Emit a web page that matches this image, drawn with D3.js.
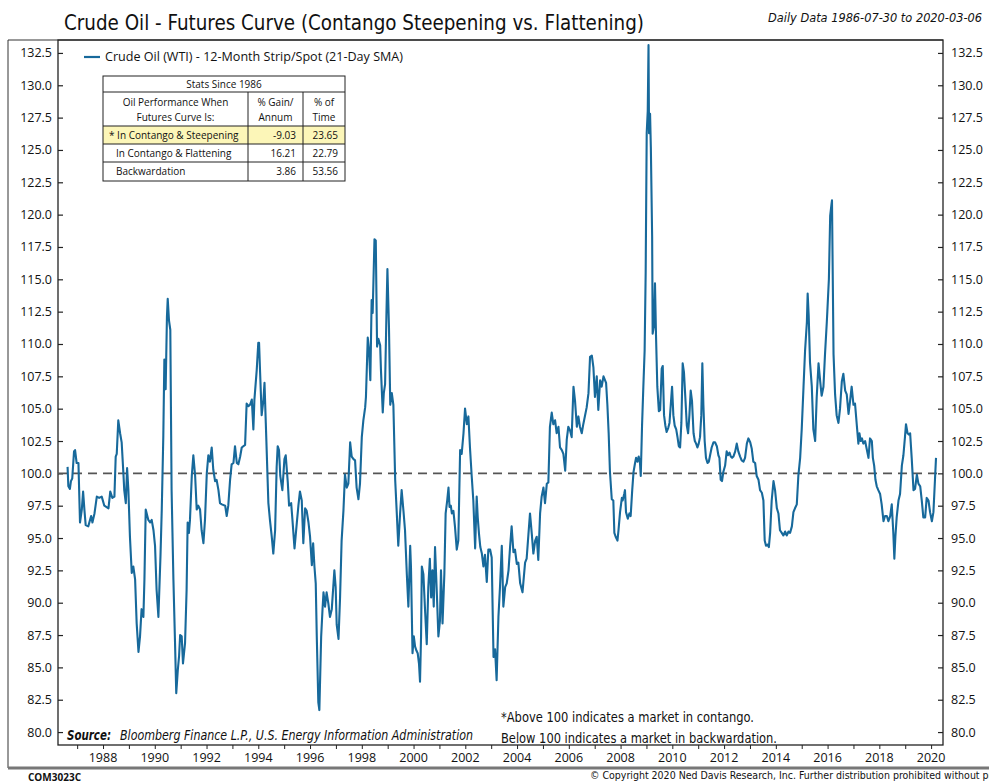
<!doctype html>
<html>
<head>
<meta charset="utf-8">
<script src="https://cdnjs.cloudflare.com/ajax/libs/d3/7.8.5/d3.min.js"></script>
<style>
  body { margin: 0; background: #fff; }
  svg text { font-family: "Open Sans", "Liberation Sans", sans-serif; fill: #111; }
  .narrow { font-family: "Liberation Sans Narrow", "DejaVu Sans Condensed", sans-serif; }
</style>
</head>
<body>
<svg id="chart" width="989" height="784"></svg>
<script>
// 12-month strip / spot, 21-day SMA (decimal years)
var dates = [
  1986.63,1986.66,1986.72,1986.76,1986.81,1986.88,1986.92,1986.98,1987.05,1987.11,1987.18,1987.23,1987.28,1987.33,1987.43,1987.54,1987.59,1987.67,1987.76,1987.85,1987.95,
  1988.05,1988.21,1988.28,1988.36,1988.44,1988.49,1988.53,1988.59,1988.66,1988.72,1988.79,1988.82,1988.88,1988.93,1988.98,
  1989.04,1989.11,1989.17,1989.24,1989.30,1989.37,1989.43,1989.49,1989.56,1989.60,1989.65,1989.75,1989.82,1989.88,1989.95,
  1990.01,1990.07,1990.14,1990.22,1990.27,1990.33,1990.37,1990.42,1990.47,1990.50,1990.55,1990.60,1990.65,1990.72,1990.78,1990.83,1990.89,1990.94,1990.98,
  1991.04,1991.09,1991.17,1991.23,1991.27,1991.32,1991.36,1991.43,1991.49,1991.56,1991.62,1991.68,1991.75,1991.81,1991.88,1991.94,
  1992.01,1992.07,1992.13,1992.20,1992.26,1992.33,1992.39,1992.46,1992.52,1992.59,1992.72,1992.78,1992.84,1992.91,1992.97,
  1993.04,1993.10,1993.17,1993.23,1993.30,1993.36,1993.49,1993.55,1993.62,1993.68,1993.75,1993.81,1993.85,1993.94,
  1994.00,1994.03,1994.07,1994.13,1994.20,1994.24,1994.29,1994.39,1994.45,1994.52,1994.58,1994.65,1994.71,1994.75,1994.80,1994.85,1994.93,
  1995.01,1995.06,1995.14,1995.19,1995.27,1995.32,1995.40,1995.49,1995.55,1995.61,1995.68,1995.74,1995.81,1995.87,1995.94,
  1996.00,1996.07,1996.12,1996.17,1996.22,1996.26,1996.32,1996.36,1996.43,1996.48,1996.52,1996.58,1996.64,1996.71,1996.77,1996.84,1996.94,1996.99,
  1997.03,1997.10,1997.16,1997.22,1997.29,1997.35,1997.42,1997.48,1997.55,1997.61,1997.68,1997.74,1997.80,1997.87,1997.93,
  1998.00,1998.06,1998.13,1998.16,1998.23,1998.28,1998.33,1998.38,1998.42,1998.49,1998.54,1998.59,1998.64,1998.71,1998.74,1998.81,1998.85,1998.90,1998.95,1998.99,
  1999.05,1999.10,1999.16,1999.22,1999.29,1999.35,1999.41,1999.48,1999.54,1999.61,1999.67,1999.74,1999.80,1999.87,1999.90,1999.96,
  2000.01,2000.06,2000.11,2000.16,2000.21,2000.25,2000.29,2000.32,2000.38,2000.45,2000.51,2000.57,2000.63,2000.68,2000.73,2000.78,2000.83,2000.90,2000.96,
  2001.02,2001.06,2001.12,2001.19,2001.24,2001.30,2001.35,2001.39,2001.44,2001.48,2001.54,2001.60,2001.67,2001.73,2001.80,2001.86,2001.93,2001.99,
  2002.06,2002.12,2002.18,2002.25,2002.31,2002.38,2002.44,2002.48,2002.53,2002.58,2002.64,2002.70,2002.76,2002.83,2002.89,2002.96,
  2003.02,2003.09,2003.15,2003.21,2003.28,2003.34,2003.41,2003.47,2003.54,2003.60,2003.67,2003.73,2003.79,2003.86,2003.92,2003.99,
  2004.05,2004.12,2004.21,2004.31,2004.37,2004.44,2004.50,2004.57,2004.63,2004.70,2004.76,2004.82,2004.89,2004.95,
  2005.02,2005.08,2005.15,2005.21,2005.27,2005.34,2005.40,2005.47,2005.53,2005.60,2005.66,2005.73,2005.79,2005.86,2005.92,2005.98,
  2006.05,2006.11,2006.18,2006.24,2006.31,2006.37,2006.43,2006.50,2006.56,2006.69,2006.76,2006.82,2006.89,2006.95,
  2007.01,2007.08,2007.14,2007.21,2007.27,2007.34,2007.44,2007.49,2007.54,2007.59,2007.66,2007.72,2007.76,2007.81,2007.88,2007.92,2007.98,
  2008.05,2008.08,2008.14,2008.17,2008.21,2008.28,2008.34,2008.39,2008.45,2008.50,2008.56,2008.60,2008.65,2008.70,2008.75,2008.78,2008.83,2008.88,2008.93,2008.97,
  2009.01,2009.05,2009.08,2009.10,2009.14,2009.17,2009.22,2009.24,2009.29,2009.33,2009.37,2009.42,2009.48,2009.53,2009.59,2009.63,2009.68,2009.73,2009.78,2009.84,2009.89,2009.94,2009.99,
  2010.04,2010.09,2010.15,2010.20,2010.25,2010.30,2010.35,2010.40,2010.45,2010.51,2010.56,2010.61,2010.66,2010.71,2010.76,2010.82,2010.87,2010.92,2010.97,
  2011.02,2011.07,2011.12,2011.16,2011.20,2011.25,2011.30,2011.36,2011.41,2011.46,2011.52,2011.59,2011.65,2011.72,2011.78,2011.82,2011.87,2011.92,2011.97,
  2012.04,2012.10,2012.15,2012.21,2012.26,2012.31,2012.36,2012.43,2012.49,2012.55,2012.62,2012.68,2012.75,2012.81,2012.88,2012.94,
  2013.01,2013.07,2013.13,2013.20,2013.26,2013.33,2013.39,2013.46,2013.52,2013.57,2013.62,2013.68,2013.73,2013.78,2013.84,2013.91,2013.97,
  2014.04,2014.10,2014.16,2014.23,2014.29,2014.36,2014.42,2014.49,2014.55,2014.62,2014.68,2014.74,2014.81,2014.87,2014.94,
  2015.00,2015.07,2015.13,2015.20,2015.23,2015.27,2015.32,2015.39,2015.45,2015.52,2015.58,2015.65,2015.71,2015.77,2015.84,2015.90,2015.97,2015.99,
  2016.05,2016.10,2016.15,2016.17,2016.23,2016.29,2016.35,2016.42,2016.48,2016.55,2016.61,2016.68,2016.74,2016.81,2016.87,2016.93,
  2017.00,2017.06,2017.13,2017.19,2017.23,2017.28,2017.33,2017.38,2017.45,2017.51,2017.58,2017.64,2017.71,2017.75,2017.80,2017.85,2017.90,2017.96,
  2018.03,2018.09,2018.16,2018.22,2018.29,2018.35,2018.42,2018.48,2018.54,2018.58,2018.62,2018.67,2018.74,2018.80,2018.87,2018.93,2018.99,
  2019.03,2019.09,2019.14,2019.19,2019.25,2019.32,2019.38,2019.45,2019.51,2019.58,2019.64,2019.70,2019.77,2019.83,2019.90,2019.96,
  2020.03,2020.09,2020.15,2020.19
];
var ratio = [
  100.5,99.0,98.8,99.4,99.6,101.7,101.8,100.8,100.8,96.2,97.2,98.6,97.2,96.0,95.9,96.7,96.2,96.9,98.2,98.1,98.2,
  97.5,97.3,98.6,98.1,98.2,101.3,101.5,104.1,103.1,102.4,99.9,98.7,97.7,100.4,98.7,
  95.1,92.3,92.8,91.8,88.4,86.2,87.4,89.5,88.9,91.8,97.2,96.4,96.2,96.4,95.6,
  94.4,91.0,88.9,93.6,97.2,102.9,108.8,106.5,112.1,113.5,111.8,111.1,98.7,91.8,87.1,83.0,84.8,85.9,87.5,
  87.4,85.3,86.9,91.0,96.2,95.4,96.4,99.8,101.4,99.8,97.2,97.5,97.2,95.6,94.6,96.4,
  100.0,101.4,100.9,102.0,100.3,99.4,99.5,98.7,97.7,97.6,97.5,96.7,97.5,99.5,100.7,
  100.8,102.1,100.8,100.7,101.3,102.0,102.2,105.4,105.2,105.3,105.7,103.4,105.7,108.0,
  110.1,110.1,107.8,104.5,105.7,107.0,103.9,97.7,96.4,95.1,93.8,95.6,100.5,102.1,101.8,99.8,98.7,
  101.1,101.4,99.3,97.5,97.7,96.4,94.2,96.2,97.5,98.6,97.9,94.6,97.3,97.1,96.2,
  95.1,92.9,94.6,92.8,91.5,87.4,82.3,81.7,87.4,89.4,90.8,89.7,90.8,89.9,88.9,89.5,92.5,91.2,
  88.3,87.2,90.4,94.8,97.1,99.9,98.9,99.2,102.4,101.3,101.1,101.0,98.9,98.0,99.2,
  102.8,104.1,105.1,105.9,110.5,109.5,107.2,113.4,112.4,118.1,118.0,109.8,110.4,109.9,108.0,104.7,106.2,106.9,112.1,115.8,
  111.3,105.3,106.2,105.3,99.5,97.0,94.4,96.9,98.7,97.1,95.6,92.2,89.7,94.4,92.8,86.1,
  87.4,86.6,86.3,86.1,85.3,83.9,87.4,92.8,92.2,89.2,86.8,91.2,93.4,90.4,92.5,89.7,94.3,90.7,87.4,
  88.6,92.5,88.4,92.2,96.9,97.9,98.9,97.4,97.5,96.9,97.1,95.9,94.1,94.8,101.8,101.5,103.1,105.0,
  103.8,104.4,102.0,99.7,97.9,94.2,98.2,96.6,95.3,94.3,93.8,92.8,93.7,91.6,94.1,94.1,
  93.5,85.8,86.4,84.0,88.9,91.2,94.4,89.7,91.2,91.5,92.5,94.3,95.9,93.9,94.1,93.0,
  93.1,91.5,90.8,93.1,93.4,95.3,96.9,95.3,93.8,94.8,95.1,93.3,96.9,98.2,
  98.9,97.7,99.2,99.3,103.6,104.7,103.8,104.1,103.1,103.6,102.0,101.8,101.5,100.2,102.6,103.6,
  103.3,102.8,106.7,105.6,103.6,104.4,103.6,103.1,103.8,105.1,106.2,109.0,109.1,108.2,
  105.9,107.5,104.9,107.2,106.7,107.5,107.0,105.3,103.1,100.1,98.0,97.9,95.4,95.1,94.8,95.6,97.0,
  98.1,97.9,98.4,98.7,97.0,96.5,96.9,96.7,98.7,100.1,100.8,101.2,100.9,101.3,100.8,99.8,103.7,106.7,109.5,115.5,
  126.3,128.0,133.1,126.3,127.8,125.2,118.3,110.8,111.4,114.7,110.6,106.7,104.8,104.9,108.1,108.3,104.5,103.7,103.2,103.5,103.9,105.3,106.7,
  104.5,103.7,103.4,102.8,102.1,102.0,103.9,108.5,107.8,105.6,103.7,103.1,104.5,106.4,105.6,103.1,102.5,102.3,102.0,
  102.3,102.8,104.5,108.5,105.3,102.5,101.2,100.8,100.9,101.4,102.0,102.4,102.4,102.1,101.4,101.2,99.5,99.4,100.1,
  100.6,101.7,101.4,101.6,101.3,101.2,101.3,101.7,102.3,101.7,101.3,101.0,100.9,101.2,102.3,102.7,
  102.4,101.9,100.9,100.8,99.8,99.5,98.7,98.5,97.9,94.8,94.4,94.5,94.3,95.4,97.9,99.4,98.7,
  97.3,96.9,95.6,95.4,95.2,95.5,95.2,95.5,95.4,95.9,97.0,97.3,97.6,99.8,101.2,
  103.4,106.7,109.5,111.7,113.9,112.2,108.6,106.7,103.4,102.5,105.9,108.5,107.2,106.0,106.7,109.2,111.7,112.5,
  115.0,119.9,120.8,121.1,109.2,106.1,104.5,103.9,105.0,107.1,107.7,106.4,106.1,104.6,105.6,106.7,
  105.3,105.4,103.7,102.3,103.1,102.5,102.7,102.3,102.5,101.9,101.2,102.7,102.5,101.2,100.6,99.5,99.0,98.7,
  98.4,97.6,96.3,96.7,96.7,96.3,96.7,97.6,95.4,93.4,95.1,96.6,97.9,98.4,100.6,101.4,102.8,
  103.8,103.1,103.0,103.1,101.2,98.7,98.8,99.9,99.2,99.0,97.9,96.6,96.6,98.1,97.9,97.0,
  96.3,97.0,99.5,101.2
];

var yTicks = d3.range(80, 133, 2.5);
var xYears = d3.range(1987, 2021);
var xLabelYears = d3.range(1988, 2021, 2);

var statHead = ["Oil Performance When", "Futures Curve Is:"];
var statRows = ["* In Contango & Steepening", "In Contango & Flattening", "Backwardation"];
var statGain = ["-9.03", "16.21", "3.86"];
var statTime = ["23.65", "22.79", "53.56"];

var lineColor = "#17699b";
var svg = d3.select("#chart");

var pLeft = 58, pRight = 943, pTop = 40, pBottom = 745;

var x = d3.scaleLinear().domain([1986.26, 2020.46]).range([pLeft, pRight]);
var y = d3.scaleLinear().domain([79.0, 133.5]).range([pBottom, pTop]);

// frames
svg.append("line").attr("x1", 8).attr("x2", 8).attr("y1", pTop).attr("y2", 768)
  .attr("stroke", "#333").attr("stroke-width", 1);
svg.append("line").attr("x1", 8).attr("x2", pRight).attr("y1", pTop).attr("y2", pTop)
  .attr("stroke", "#333").attr("stroke-width", 1);
svg.append("line").attr("x1", 8).attr("x2", 989).attr("y1", 768).attr("y2", 768)
  .attr("stroke", "#777").attr("stroke-width", 3);
svg.append("rect").attr("x", pLeft).attr("y", pTop).attr("width", pRight - pLeft).attr("height", pBottom - pTop)
  .attr("fill", "none").attr("stroke", "#222").attr("stroke-width", 1.3);

// y axes both sides, ticks inside
var yl = svg.append("g").attr("transform", "translate(" + pLeft + ",0)")
  .call(d3.axisRight(y).tickValues(yTicks).tickSize(5).tickFormat(""));
var yr = svg.append("g").attr("transform", "translate(" + pRight + ",0)")
  .call(d3.axisLeft(y).tickValues(yTicks).tickSize(5).tickFormat(""));
[yl, yr].forEach(function(g) {
  g.select(".domain").remove();
  g.selectAll("line").attr("stroke", "#222").attr("stroke-width", 1.2);
});
svg.append("g").selectAll("text").data(yTicks).enter().append("text")
  .attr("x", pLeft - 6).attr("y", function(d) { return y(d) + 4.5; })
  .attr("text-anchor", "end").attr("font-size", 12.5)
  .text(function(d) { return d.toFixed(1); });
svg.append("g").selectAll("text").data(yTicks).enter().append("text")
  .attr("x", pRight + 8).attr("y", function(d) { return y(d) + 4.5; })
  .attr("font-size", 12.5)
  .text(function(d) { return d.toFixed(1); });

// x axis
var xa = svg.append("g").attr("transform", "translate(0," + pBottom + ")")
  .call(d3.axisBottom(x).tickValues(xYears).tickSize(4).tickFormat(""));
xa.select(".domain").remove();
xa.selectAll("line").attr("stroke", "#222");
svg.append("g").selectAll("text").data(xLabelYears).enter().append("text")
  .attr("x", function(d) { return x(d); }).attr("y", 762)
  .attr("text-anchor", "middle").attr("font-size", 12.5)
  .text(function(d) { return d; });

// 100 reference
svg.append("line").attr("x1", pLeft).attr("x2", pRight).attr("y1", y(100)).attr("y2", y(100))
  .attr("stroke", "#555").attr("stroke-width", 1.6).attr("stroke-dasharray", "9,6");

// series
var pts = dates.map(function(d, i) { return [d, ratio[i]]; });
svg.append("path").datum(pts)
  .attr("fill", "none").attr("stroke", lineColor).attr("stroke-width", 2.1)
  .attr("stroke-linejoin", "round")
  .attr("d", d3.line().x(function(d) { return x(d[0]); }).y(function(d) { return y(d[1]); }));

// titles
svg.append("text").attr("class", "narrow").attr("x", 64).attr("y", 30)
  .attr("font-size", 22).attr("textLength", 580).attr("lengthAdjust", "spacingAndGlyphs")
  .text("Crude Oil - Futures Curve (Contango Steepening vs. Flattening)");
svg.append("text").attr("class", "narrow").attr("x", 982).attr("y", 22)
  .attr("text-anchor", "end").attr("font-size", 12.5).attr("font-style", "italic")
  .attr("textLength", 214).attr("lengthAdjust", "spacingAndGlyphs")
  .text("Daily Data 1986-07-30 to 2020-03-06");

// legend
svg.append("line").attr("x1", 84).attr("x2", 100).attr("y1", 57).attr("y2", 57)
  .attr("stroke", lineColor).attr("stroke-width", 2.2);
svg.append("text").attr("x", 105).attr("y", 61).attr("font-size", 12)
  .attr("textLength", 298).attr("lengthAdjust", "spacingAndGlyphs")
  .text("Crude Oil (WTI) - 12-Month Strip/Spot (21-Day SMA)");

// stats table
var tx0 = 103, tx1 = 248, tx2 = 303, tx3 = 345;
var rowY = [76, 92, 126, 144, 162, 181];
var tbl = svg.append("g").attr("font-size", 10);
tbl.append("rect").attr("x", tx0).attr("y", rowY[2]).attr("width", tx3 - tx0).attr("height", rowY[3] - rowY[2])
  .attr("fill", "#fcf6b8");
tbl.append("rect").attr("x", tx0).attr("y", rowY[0]).attr("width", tx3 - tx0).attr("height", rowY[5] - rowY[0])
  .attr("fill", "none").attr("stroke", "#222").attr("stroke-width", 1);
rowY.slice(1, 5).forEach(function(ry) {
  tbl.append("line").attr("x1", tx0).attr("x2", tx3).attr("y1", ry).attr("y2", ry).attr("stroke", "#222");
});
[tx1, tx2].forEach(function(cx) {
  tbl.append("line").attr("x1", cx).attr("x2", cx).attr("y1", rowY[1]).attr("y2", rowY[5]).attr("stroke", "#222");
});
tbl.append("text").attr("x", (tx0 + tx3) / 2).attr("y", 88).attr("text-anchor", "middle").text("Stats Since 1986");
statHead.forEach(function(t, i) {
  tbl.append("text").attr("x", (tx0 + tx1) / 2).attr("y", 106 + i * 15).attr("text-anchor", "middle").text(t);
});
["% Gain/", "Annum"].forEach(function(t, i) {
  tbl.append("text").attr("x", (tx1 + tx2) / 2).attr("y", 106 + i * 15).attr("text-anchor", "middle").text(t);
});
["% of", "Time"].forEach(function(t, i) {
  tbl.append("text").attr("x", (tx2 + tx3) / 2).attr("y", 106 + i * 15).attr("text-anchor", "middle").text(t);
});
statRows.forEach(function(t, i) {
  var by = rowY[i + 2] + 13;
  tbl.append("text").attr("x", i === 0 ? 109 : 116).attr("y", by).text(t);
  tbl.append("text").attr("x", tx2 - 7).attr("y", by).attr("text-anchor", "end").text(statGain[i]);
  tbl.append("text").attr("x", tx3 - 7).attr("y", by).attr("text-anchor", "end").text(statTime[i]);
});

// notes
svg.append("text").attr("class", "narrow").attr("x", 67).attr("y", 740).attr("font-size", 13.5)
  .attr("font-style", "italic").attr("font-weight", "bold")
  .attr("textLength", 44).attr("lengthAdjust", "spacingAndGlyphs").text("Source:");
svg.append("text").attr("class", "narrow").attr("x", 120).attr("y", 740).attr("font-size", 14)
  .attr("font-style", "italic").attr("textLength", 353).attr("lengthAdjust", "spacingAndGlyphs")
  .text("Bloomberg Finance L.P., U.S. Energy Information Administration");
svg.append("text").attr("class", "narrow").attr("x", 501).attr("y", 722).attr("font-size", 14)
  .attr("textLength", 253).attr("lengthAdjust", "spacingAndGlyphs")
  .text("*Above 100 indicates a market in contango.");
svg.append("text").attr("class", "narrow").attr("x", 501).attr("y", 743).attr("font-size", 14)
  .attr("textLength", 276).attr("lengthAdjust", "spacingAndGlyphs")
  .text("Below 100 indicates a market in backwardation.");

// footer
svg.append("text").attr("x", 28).attr("y", 781).attr("font-size", 10).attr("font-weight", "bold")
  .text("COM3023C");
svg.append("text").attr("class", "narrow").attr("x", 590).attr("y", 779).attr("font-size", 10.5)
  .text("\u00a9 Copyright 2020 Ned Davis Research, Inc. Further distribution prohibited without prior permission.");
</script>
</body>
</html>
